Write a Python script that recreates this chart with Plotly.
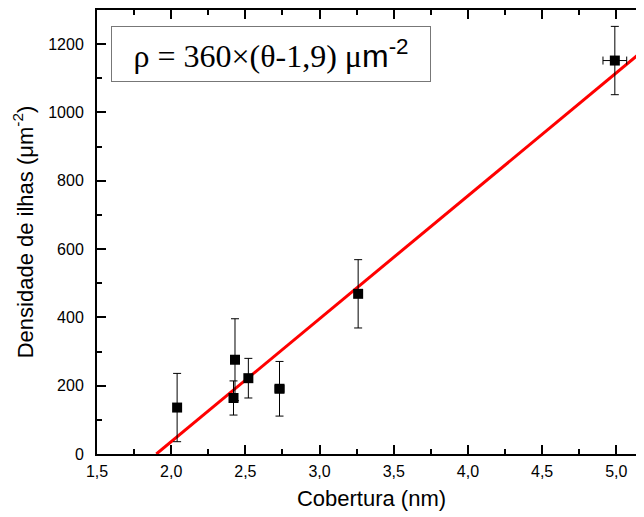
import plotly.graph_objects as go

# cobertura (nm) vs densidade de ilhas (um^-2)
cobertura = [2.04, 2.43, 2.42, 2.52, 2.73, 3.26, 4.99]
densidade = [136, 276, 164, 222, 191, 469, 1152]
erro_dens = [100, 120, 50, 58, 80, 100, 100]
erro_cob = [0.0, 0.03, 0.0, 0.02, 0.03, 0.0, 0.08]

# ajuste linear: rho = 360 (theta - 1,9)
fit_a = 360
fit_b = 1.9
fit_x = [1.9, 5.3]
fit_y = [fit_a * (x - fit_b) for x in fit_x]

axis_font = dict(family="Liberation Sans, Arial", size=16, color="black")
title_font = dict(family="Liberation Sans, Arial", size=22, color="black")

fig = go.Figure()

fig.add_trace(go.Scatter(
    x=fit_x, y=fit_y, mode="lines",
    line=dict(color="red", width=3),
    showlegend=False, hoverinfo="skip",
))

fig.add_trace(go.Scatter(
    x=cobertura, y=densidade, mode="markers",
    marker=dict(symbol="square", size=10, color="black"),
    error_y=dict(type="data", array=erro_dens, color="black", thickness=1, width=4),
    error_x=dict(type="data", array=erro_cob, color="black", thickness=1, width=4),
    showlegend=False,
))

# a pagina tem margem de 8px no body, o eixo da direita fica fora da janela
fig.update_layout(
    width=640, height=509,
    margin=dict(l=89, r=0, t=0, b=63),
    plot_bgcolor="white", paper_bgcolor="white",
    xaxis=dict(
        range=[1.5, 5.2],
        tickvals=[1.5, 2.0, 2.5, 3.0, 3.5, 4.0, 4.5, 5.0],
        ticktext=["1,5", "2,0", "2,5", "3,0", "3,5", "4,0", "4,5", "5,0"],
        ticks="inside", ticklen=9, tickwidth=1.5, tickcolor="black",
        minor=dict(dtick=0.25, tick0=1.5, ticks="inside", ticklen=5, tickwidth=1.5, tickcolor="black"),
        showline=True, linecolor="black", linewidth=2, mirror="ticks",
        showgrid=False, zeroline=False,
        tickfont=axis_font, ticklabelstandoff=2,
        title=dict(text="Cobertura (nm)", font=title_font, standoff=11),
    ),
    yaxis=dict(
        range=[0, 1300],
        tickvals=[0, 200, 400, 600, 800, 1000, 1200],
        ticks="inside", ticklen=9, tickwidth=1.5, tickcolor="black",
        minor=dict(dtick=100, ticks="inside", ticklen=5, tickwidth=1.5, tickcolor="black"),
        showline=True, linecolor="black", linewidth=2, mirror="ticks",
        showgrid=False, zeroline=False,
        tickfont=axis_font, ticklabelstandoff=8,
        title=dict(text="Densidade de ilhas (\u03bcm<sup>-2</sup>)", font=title_font, standoff=9),
    ),
)

fig.add_annotation(
    xref="paper", yref="paper", x=0.3176, y=0.901,
    xanchor="center", yanchor="middle",
    text="\u03c1 = 360\u00d7(\u03b8-1,9) \u03bc<span style='font-family:Liberation Sans, Arial'>m<sup>-2</sup></span>",
    showarrow=False,
    font=dict(family="Liberation Serif, Times New Roman", size=32, color="black"),
    width=316, height=52,
    bordercolor="#777777", borderwidth=1, borderpad=1,
    bgcolor="white",
)

fig.write_html("out.html")
